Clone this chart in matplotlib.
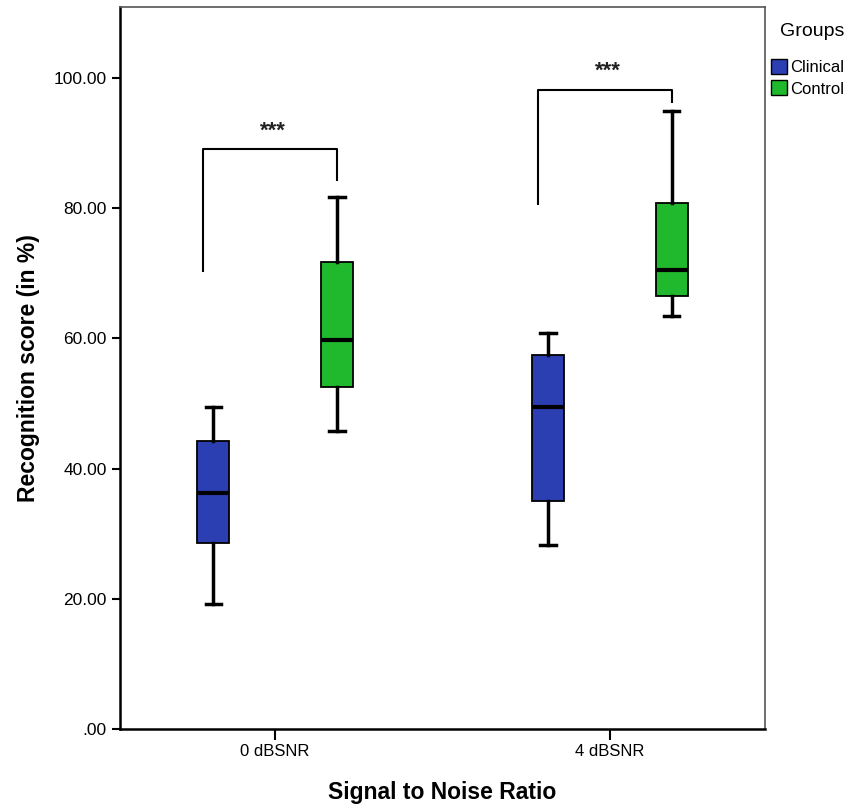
import matplotlib
matplotlib.use("Agg")
import matplotlib.pyplot as plt
import matplotlib.ticker as ticker
from matplotlib.patches import Patch

plt.rcParams['font.family'] = ['Liberation Sans', 'DejaVu Sans']

# ── Data ──────────────────────────────────────────────────────────
conditions = ['0 dBSNR', '4 dBSNR']
groups = ['Clinical', 'Control']

# five-number summaries per condition: low whisker, Q1, median, Q3, high whisker
clinical_low = [19.2, 28.3]
clinical_q1 = [28.5, 35.1]
clinical_med = [36.3, 49.5]
clinical_q3 = [44.2, 57.5]
clinical_high = [49.5, 60.9]

control_low = [45.8, 63.4]
control_q1 = [52.6, 66.6]
control_med = [59.7, 70.5]
control_q3 = [71.7, 80.8]
control_high = [81.7, 94.9]

# significance brackets: top line, left leg end, right leg end
bracket_top = [89.1, 98.2]
bracket_left = [70.2, 80.5]
bracket_right = [84.2, 96.2]
sig_labels = ['***', '***']

# ── Style ─────────────────────────────────────────────────────────
colors = {'Clinical': '#2b3fb3', 'Control': '#20b82c'}
offset = 0.185
box_w = 0.095

fig = plt.figure(figsize=(8.51, 8.09), dpi=100, facecolor='white')
ax = fig.add_axes([0.141, 0.099, 0.758, 0.892])

summaries = {
    'Clinical': (clinical_low, clinical_q1, clinical_med, clinical_q3, clinical_high),
    'Control': (control_low, control_q1, control_med, control_q3, control_high),
}

for g_idx, grp in enumerate(groups):
    low, q1, med, q3, high = summaries[grp]
    stats = []
    for i in range(len(conditions)):
        stats.append({'whislo': low[i], 'q1': q1[i], 'med': med[i],
                      'q3': q3[i], 'whishi': high[i], 'fliers': []})
    sign = -1 if g_idx == 0 else 1
    positions = [i + sign * offset for i in range(len(conditions))]
    ax.bxp(stats, positions=positions, widths=box_w, patch_artist=True,
           showfliers=False, manage_ticks=False,
           boxprops=dict(facecolor=colors[grp], edgecolor='black', linewidth=1.3),
           whiskerprops=dict(color='black', linewidth=2.5),
           capprops=dict(color='black', linewidth=2.5),
           medianprops=dict(color='black', linewidth=3),
           capwidths=0.045)

# significance brackets
for i in range(len(conditions)):
    xl = i - offset - 0.03
    xr = i + offset
    ax.plot([xl, xl, xr, xr],
            [bracket_left[i], bracket_top[i], bracket_top[i], bracket_right[i]],
            color='black', linewidth=1.5, solid_capstyle='butt')
    ax.text((xl + xr) / 2 + 0.01, bracket_top[i] + 1.2, sig_labels[i],
            ha='center', va='bottom', fontsize=16, fontweight='bold', color='#222222')

# ── Axes ──────────────────────────────────────────────────────────
ax.set_xlim(-0.463, 1.463)
ax.set_ylim(0, 110.9)
ax.set_xticks(range(len(conditions)))
ax.set_xticklabels(conditions, fontsize=12)
ax.set_yticks([0, 20, 40, 60, 80, 100])
ax.yaxis.set_major_formatter(ticker.FuncFormatter(
    lambda v, _: '.00' if v == 0 else f'{v:.2f}'))
ax.tick_params(axis='y', labelsize=12.5, length=6, width=1.5, direction='out')
ax.tick_params(axis='x', length=8, width=1.5, direction='out', pad=3)

for sp in ['left', 'bottom']:
    ax.spines[sp].set_linewidth(1.8)
for sp in ['top', 'right']:
    ax.spines[sp].set_linewidth(1.2)
    ax.spines[sp].set_color('#555555')

ax.set_xlabel('Signal to Noise Ratio', fontsize=16.5, fontweight='bold', labelpad=16)
ax.set_ylabel('Recognition score (in %)', fontsize=16.5, fontweight='bold', labelpad=10)

# legend outside on the right
fig.text(0.9925, 0.961, 'Groups', ha='right', va='center', fontsize=14)
handles = [Patch(facecolor=colors[g], edgecolor='black', label=g) for g in groups]
fig.legend(handles=handles, loc='upper left',
           bbox_to_anchor=(0.898, 0.935), frameon=False, fontsize=12,
           handlelength=0.95, handleheight=1.0,
           handletextpad=0.2, borderaxespad=0, labelspacing=0.3)

fig.savefig('out.png', dpi=100, facecolor='white')
